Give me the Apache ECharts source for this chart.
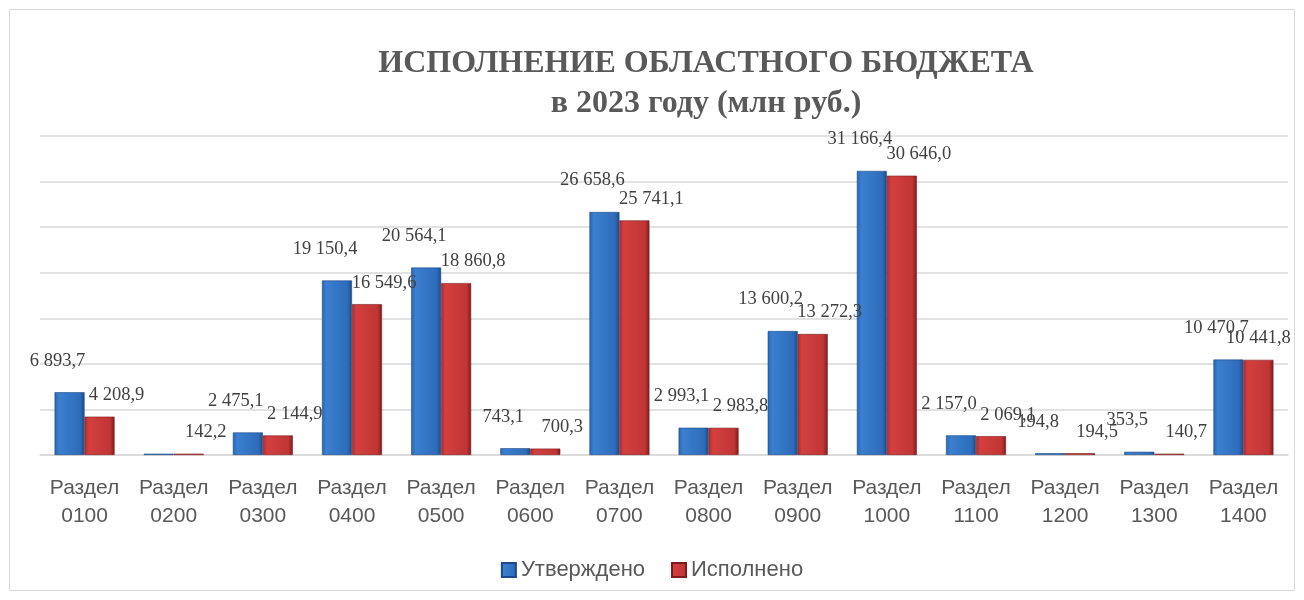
<!DOCTYPE html>
<html>
<head>
<meta charset="utf-8">
<script src="https://cdn.jsdelivr.net/npm/echarts@6/dist/echarts.min.js"></script>
<style>
  html, body { margin: 0; padding: 0; background: #fff; }
  #chart { width: 1304px; height: 600px; }
</style>
</head>
<body>
<div id="chart"></div>
<script>
// разделы бюджета
const categories = ['Раздел\n0100', 'Раздел\n0200', 'Раздел\n0300', 'Раздел\n0400', 'Раздел\n0500',
  'Раздел\n0600', 'Раздел\n0700', 'Раздел\n0800', 'Раздел\n0900', 'Раздел\n1000',
  'Раздел\n1100', 'Раздел\n1200', 'Раздел\n1300', 'Раздел\n1400']
// Утверждено, млн руб.
const approved = [6893.7, 142.2, 2475.1, 19150.4, 20564.1, 743.1, 26658.6, 2993.1, 13600.2, 31166.4, 2157.0, 194.8, 353.5, 10470.7]
// Исполнено, млн руб.
const executed = [4208.9, 142.2, 2144.9, 16549.6, 18860.8, 700.3, 25741.1, 2983.8, 13272.3, 30646.0, 2069.1, 194.5, 140.7, 10441.8]

const fmt = (v) => {
  const parts = v.toFixed(1).split('.')
  return parts[0].replace(/\B(?=(\d{3})+(?!\d))/g, ' ') + ',' + parts[1]
}

const blueFill = new echarts.graphic.LinearGradient(0, 0, 1, 0, [
  { offset: 0, color: '#2a66b0' },
  { offset: 0.15, color: '#3b7fd0' },
  { offset: 0.85, color: '#2d6cba' },
  { offset: 1, color: '#1d4a86' }
])
const redFill = new echarts.graphic.LinearGradient(0, 0, 1, 0, [
  { offset: 0, color: '#b02c2c' },
  { offset: 0.15, color: '#d43f3f' },
  { offset: 0.85, color: '#c03535' },
  { offset: 1, color: '#7e1c1c' }
])

const labelFont = {
  fontFamily: '"Liberation Serif", "DejaVu Serif", serif',
  fontSize: 18.5,
  color: '#404040'
}
const sansFont = '"Liberation Sans", "Noto Sans", sans-serif'

const chart = echarts.init(document.getElementById('chart'))
chart.setOption({
  animation: false,
  title: {
    text: 'ИСПОЛНЕНИЕ ОБЛАСТНОГО БЮДЖЕТА\nв 2023 году (млн руб.)',
    left: 701,
    top: 39,
    textAlign: 'center',
    textStyle: {
      fontFamily: '"Liberation Serif", serif',
      fontWeight: 'bold',
      fontSize: 32,
      lineHeight: 40,
      color: '#595959'
    }
  },
  graphic: [{
    type: 'rect',
    shape: { x: 9.5, y: 9.5, width: 1285, height: 581 },
    style: { fill: 'none', stroke: '#d9d9d9', lineWidth: 1 },
    silent: true
  }],
  legend: {
    bottom: 14,
    left: 'center',
    itemWidth: 14,
    itemHeight: 14,
    itemGap: 26,
    textStyle: {
      fontFamily: sansFont,
      fontSize: 22,
      color: '#595959'
    },
    data: [
      { name: 'Утверждено', icon: 'rect' },
      { name: 'Исполнено', icon: 'rect' }
    ]
  },
  grid: { left: 40, right: 16, top: 136, bottom: 145, containLabel: false },
  xAxis: {
    type: 'category',
    data: categories,
    axisTick: { show: false },
    axisLine: { lineStyle: { color: '#d9d9d9', width: 1.5 } },
    axisLabel: {
      interval: 0,
      margin: 19,
      fontFamily: sansFont,
      fontSize: 21,
      lineHeight: 28,
      color: '#595959'
    }
  },
  yAxis: {
    type: 'value',
    min: 0,
    max: 35000,
    interval: 5000,
    axisLabel: { show: false },
    axisLine: { show: false },
    axisTick: { show: false },
    splitLine: { lineStyle: { color: '#d9d9d9', width: 1.5 } }
  },
  series: [
    {
      name: 'Утверждено',
      type: 'bar',
      barWidth: 30,
      barGap: '0%',
      data: approved.map((v, i) => i === 1
        ? { value: v, label: { show: false } }
        : v),
      itemStyle: { color: blueFill, borderColor: '#1d4a86', borderWidth: 0.6 },
      label: {
        show: true,
        position: 'top',
        distance: 22,
        offset: [-12, 0],
        formatter: (p) => fmt(p.value),
        ...labelFont
      }
    },
    {
      name: 'Исполнено',
      type: 'bar',
      barWidth: 30,
      data: executed.map((v, i) => i === executed.length - 1
        ? { value: v, label: { offset: [0, 0] } }
        : v),
      itemStyle: { color: redFill, borderColor: '#7e1c1c', borderWidth: 0.6 },
      label: {
        show: true,
        position: 'top',
        distance: 12,
        offset: [17, 0],
        formatter: (p) => fmt(p.value),
        ...labelFont
      }
    }
  ]
})
</script>
</body>
</html>
